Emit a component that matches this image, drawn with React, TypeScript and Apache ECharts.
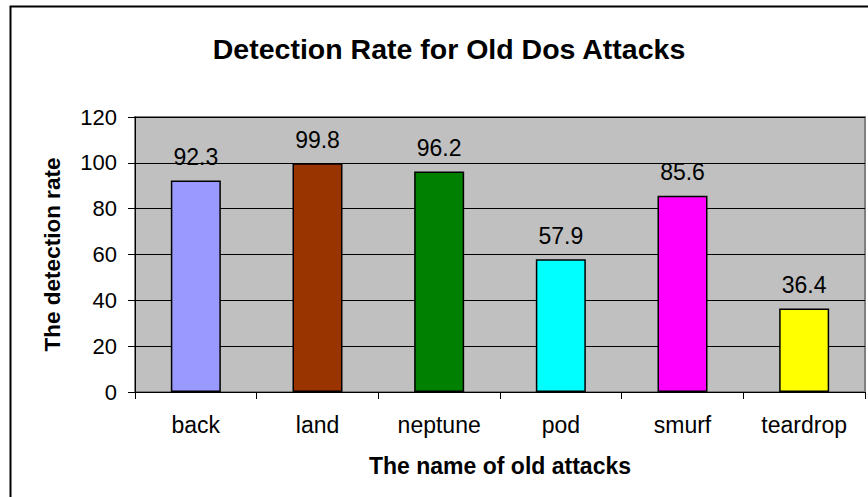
import React, { useEffect, useRef } from "react";
import * as echarts from "echarts";

const categories = ["back", "land", "neptune", "pod", "smurf", "teardrop"];
const values = [92.3, 99.8, 96.2, 57.9, 85.6, 36.4];
const barColors = ["#9999FF", "#993300", "#008000", "#00FFFF", "#FF00FF", "#FFFF00"];
const titleText = "Detection Rate for Old Dos Attacks";
const xName = "The name of old attacks";
const yName = "The detection rate";

export default function App() {
  const ref = useRef<HTMLDivElement>(null);
  useEffect(() => {
    if (!ref.current) return;
    const chart = echarts.init(ref.current, undefined, { renderer: "svg" });
    const font = "Arial, 'Liberation Sans', sans-serif";
    chart.setOption({
      animation: false,
      backgroundColor: "#ffffff",
      textStyle: { fontFamily: font },
      title: {
        text: titleText,
        left: 444,
        top: 29,
        textAlign: "center",
        textStyle: { fontSize: 28.5, fontWeight: "bold", color: "#000", fontFamily: font },
      },
      graphic: [
        {
          type: "rect",
          shape: { x: 10.5, y: 6.5, width: 900, height: 600 },
          style: { fill: "none", stroke: "#000", lineWidth: 2 },
          z: 100,
        },
      ],
      grid: {
        left: 135,
        right: 3,
        top: 117,
        bottom: 105,
        show: true,
        backgroundColor: "#C0C0C0",
        borderColor: "#808080",
        borderWidth: 2,
      },
      xAxis: {
        type: "category",
        data: categories,
        name: xName,
        nameLocation: "middle",
        nameGap: 62,
        nameTextStyle: { fontSize: 23, fontWeight: "bold", color: "#000", fontFamily: font },
        axisLine: { show: true, lineStyle: { color: "#000", width: 1 } },
        axisTick: { show: true, length: 7, lineStyle: { color: "#000" } },
        axisLabel: { fontSize: 23, color: "#000", margin: 21, fontFamily: font },
        splitLine: { show: false },
      },
      yAxis: {
        type: "value",
        min: 0,
        max: 120,
        interval: 20,
        name: yName,
        nameLocation: "middle",
        nameGap: 71,
        nameTextStyle: { fontSize: 22.5, fontWeight: "bold", color: "#000", fontFamily: font },
        axisLine: { show: true, lineStyle: { color: "#000", width: 1 } },
        axisTick: { show: true, length: 7, lineStyle: { color: "#000" } },
        axisLabel: { fontSize: 22, color: "#000", margin: 18, fontFamily: font },
        splitLine: { show: true, lineStyle: { color: "#000", width: 1 } },
      },
      series: [
        {
          type: "bar",
          barWidth: 50,
          data: values.map((v, i) => ({
            value: v,
            itemStyle: { color: barColors[i], borderColor: "#000", borderWidth: 1.5 },
          })),
          label: {
            show: true,
            position: "top",
            distance: 12,
            fontSize: 23,
            color: "#000",
            fontFamily: font,
          },
        },
      ],
    });
    return () => chart.dispose();
  }, []);
  return (
    <div
      ref={ref}
      style={{ position: "fixed", left: 0, top: 0, width: 868, height: 497 }}
    />
  );
}
